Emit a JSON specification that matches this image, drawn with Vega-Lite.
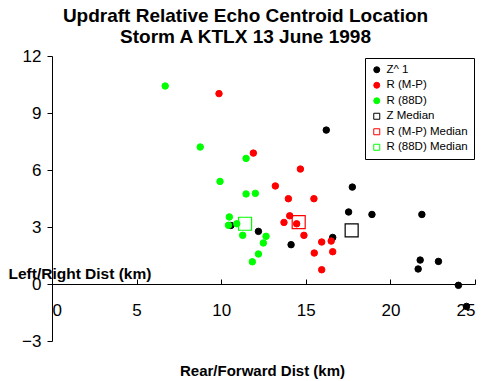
{
  "$schema": "https://vega.github.io/schema/vega-lite/v6.json",
  "width": 423,
  "height": 285,
  "autosize": {"type": "none"},
  "padding": {"left": 52, "top": 56, "right": 12, "bottom": 40},
  "background": "white",
  "title": {
    "text": ["Updraft Relative Echo Centroid Location", "Storm A KTLX 13 June 1998"],
    "font": "Liberation Sans",
    "fontSize": 19,
    "fontWeight": "bold",
    "lineHeight": 21,
    "anchor": "middle",
    "dx": -18,
    "offset": 0,
    "color": "black"
  },
  "config": {
    "view": {"stroke": null},
    "legend": {
      "orient": "none",
      "legendX": 313,
      "legendY": 2,
      "strokeColor": "black",
      "fillColor": "white",
      "padding": 6,
      "rowPadding": 2.5,
      "labelFont": "Liberation Sans",
      "labelFontSize": 11.5,
      "labelColor": "black",
      "symbolSize": 40,
      "symbolStrokeWidth": 1,
      "labelLimit": 200
    }
  },
  "data": {
    "values": [
      {"series": "Z^ 1", "x": 16.21, "y": 8.1},
      {"series": "Z^ 1", "x": 10.57, "y": 3.08},
      {"series": "Z^ 1", "x": 12.2, "y": 2.77},
      {"series": "Z^ 1", "x": 14.13, "y": 2.07},
      {"series": "Z^ 1", "x": 16.59, "y": 2.45},
      {"series": "Z^ 1", "x": 17.75, "y": 5.1},
      {"series": "Z^ 1", "x": 17.53, "y": 3.79},
      {"series": "Z^ 1", "x": 18.91, "y": 3.66},
      {"series": "Z^ 1", "x": 21.86, "y": 3.66},
      {"series": "Z^ 1", "x": 21.76, "y": 1.26},
      {"series": "Z^ 1", "x": 22.84, "y": 1.19},
      {"series": "Z^ 1", "x": 21.64, "y": 0.79},
      {"series": "Z^ 1", "x": 24.02, "y": -0.07},
      {"series": "Z^ 1", "x": 24.5, "y": -1.18},
      {"series": "R (M-P)", "x": 9.87, "y": 10.02},
      {"series": "R (M-P)", "x": 11.9, "y": 6.89},
      {"series": "R (M-P)", "x": 14.68, "y": 6.05},
      {"series": "R (M-P)", "x": 13.2, "y": 5.16},
      {"series": "R (M-P)", "x": 13.97, "y": 4.49},
      {"series": "R (M-P)", "x": 15.48, "y": 4.49},
      {"series": "R (M-P)", "x": 14.05, "y": 3.59},
      {"series": "R (M-P)", "x": 13.71, "y": 3.24},
      {"series": "R (M-P)", "x": 14.46, "y": 3.17},
      {"series": "R (M-P)", "x": 14.89, "y": 2.56},
      {"series": "R (M-P)", "x": 15.94, "y": 2.21},
      {"series": "R (M-P)", "x": 16.5, "y": 2.26},
      {"series": "R (M-P)", "x": 15.5, "y": 1.63},
      {"series": "R (M-P)", "x": 16.59, "y": 1.7},
      {"series": "R (M-P)", "x": 15.94, "y": 0.75},
      {"series": "R (88D)", "x": 6.69, "y": 10.42},
      {"series": "R (88D)", "x": 8.76, "y": 7.21},
      {"series": "R (88D)", "x": 11.47, "y": 6.61},
      {"series": "R (88D)", "x": 9.93, "y": 5.4},
      {"series": "R (88D)", "x": 11.47, "y": 4.74},
      {"series": "R (88D)", "x": 12.02, "y": 4.77},
      {"series": "R (88D)", "x": 10.48, "y": 3.53},
      {"series": "R (88D)", "x": 10.43, "y": 3.09},
      {"series": "R (88D)", "x": 10.92, "y": 3.17},
      {"series": "R (88D)", "x": 11.27, "y": 2.56},
      {"series": "R (88D)", "x": 12.65, "y": 2.51},
      {"series": "R (88D)", "x": 12.49, "y": 2.16},
      {"series": "R (88D)", "x": 12.2, "y": 1.58},
      {"series": "R (88D)", "x": 11.84, "y": 1.17},
      {"series": "Z Median", "x": 17.71, "y": 2.82},
      {"series": "R (M-P) Median", "x": 14.58, "y": 3.26},
      {"series": "R (88D) Median", "x": 11.41, "y": 3.17}
    ]
  },
  "encoding": {
    "x": {
      "field": "x",
      "type": "quantitative",
      "scale": {"domain": [0, 25], "nice": false, "zero": false},
      "axis": {
        "values": [0, 5, 10, 15, 20, 25],
        "orient": "bottom",
        "offset": -57,
        "grid": false,
        "domainColor": "black",
        "tickColor": "black",
        "tickSize": -5,
        "labelPadding": 23,
        "labelFont": "Liberation Sans",
        "labelFontSize": 17,
        "labelColor": "black",
        "title": "Rear/Forward Dist (km)",
        "titleFont": "Liberation Sans",
        "titleFontSize": 15,
        "titleFontWeight": "bold",
        "titleColor": "black",
        "titleX": 210,
        "titleY": 86,
        "titleAlign": "center",
        "titleBaseline": "middle"
      }
    },
    "y": {
      "field": "y",
      "type": "quantitative",
      "scale": {"domain": [-3, 12], "nice": false, "zero": false},
      "axis": {
        "values": [-3, 0, 3, 6, 9, 12],
        "grid": false,
        "domainColor": "black",
        "tickColor": "black",
        "tickSize": 5,
        "labelPadding": 6,
        "labelFont": "Liberation Sans",
        "labelFontSize": 17,
        "labelColor": "black",
        "title": "Left/Right Dist (km)",
        "titleFont": "Liberation Sans",
        "titleFontSize": 15.5,
        "titleFontWeight": "bold",
        "titleColor": "black",
        "titleAngle": 0,
        "titleX": -44,
        "titleY": 217,
        "titleAlign": "left",
        "titleBaseline": "middle"
      }
    },
    "shape": {
      "field": "series",
      "type": "nominal",
      "title": null,
      "scale": {
        "domain": ["Z^ 1", "R (M-P)", "R (88D)", "Z Median", "R (M-P) Median", "R (88D) Median"],
        "range": ["circle", "circle", "circle", "square", "square", "square"]
      },
      "legend": {
        "symbolSize": 36,
        "encode": {
          "symbols": {
            "enter": {"size": {"signal": "indexof(datum.value, 'Median') >= 0 ? 26 : 45"}},
            "update": {"size": {"signal": "indexof(datum.value, 'Median') >= 0 ? 26 : 45"}}
          }
        }
      }
    },
    "stroke": {
      "field": "series",
      "type": "nominal",
      "title": null,
      "scale": {
        "domain": ["Z^ 1", "R (M-P)", "R (88D)", "Z Median", "R (M-P) Median", "R (88D) Median"],
        "range": ["black", "#ff0000", "#00ff00", "black", "#ff0000", "#00ff00"]
      },
      "legend": {
        "symbolSize": 36,
        "encode": {
          "symbols": {
            "enter": {"size": {"signal": "indexof(datum.value, 'Median') >= 0 ? 26 : 45"}},
            "update": {"size": {"signal": "indexof(datum.value, 'Median') >= 0 ? 26 : 45"}}
          }
        }
      }
    },
    "fill": {
      "field": "series",
      "type": "nominal",
      "title": null,
      "scale": {
        "domain": ["Z^ 1", "R (M-P)", "R (88D)", "Z Median", "R (M-P) Median", "R (88D) Median"],
        "range": ["black", "#ff0000", "#00ff00", "transparent", "transparent", "transparent"]
      },
      "legend": {
        "symbolSize": 36,
        "encode": {
          "symbols": {
            "enter": {"size": {"signal": "indexof(datum.value, 'Median') >= 0 ? 26 : 45"}},
            "update": {"size": {"signal": "indexof(datum.value, 'Median') >= 0 ? 26 : 45"}}
          }
        }
      }
    }
  },
  "layer": [
    {
      "transform": [{"filter": "indexof(datum.series, 'Median') < 0"}],
      "mark": {"type": "point", "strokeWidth": 1, "opacity": 1, "size": 42}
    },
    {
      "transform": [{"filter": "indexof(datum.series, 'Median') >= 0"}],
      "mark": {"type": "point", "strokeWidth": 1.2, "opacity": 1, "size": 169}
    }
  ]
}
